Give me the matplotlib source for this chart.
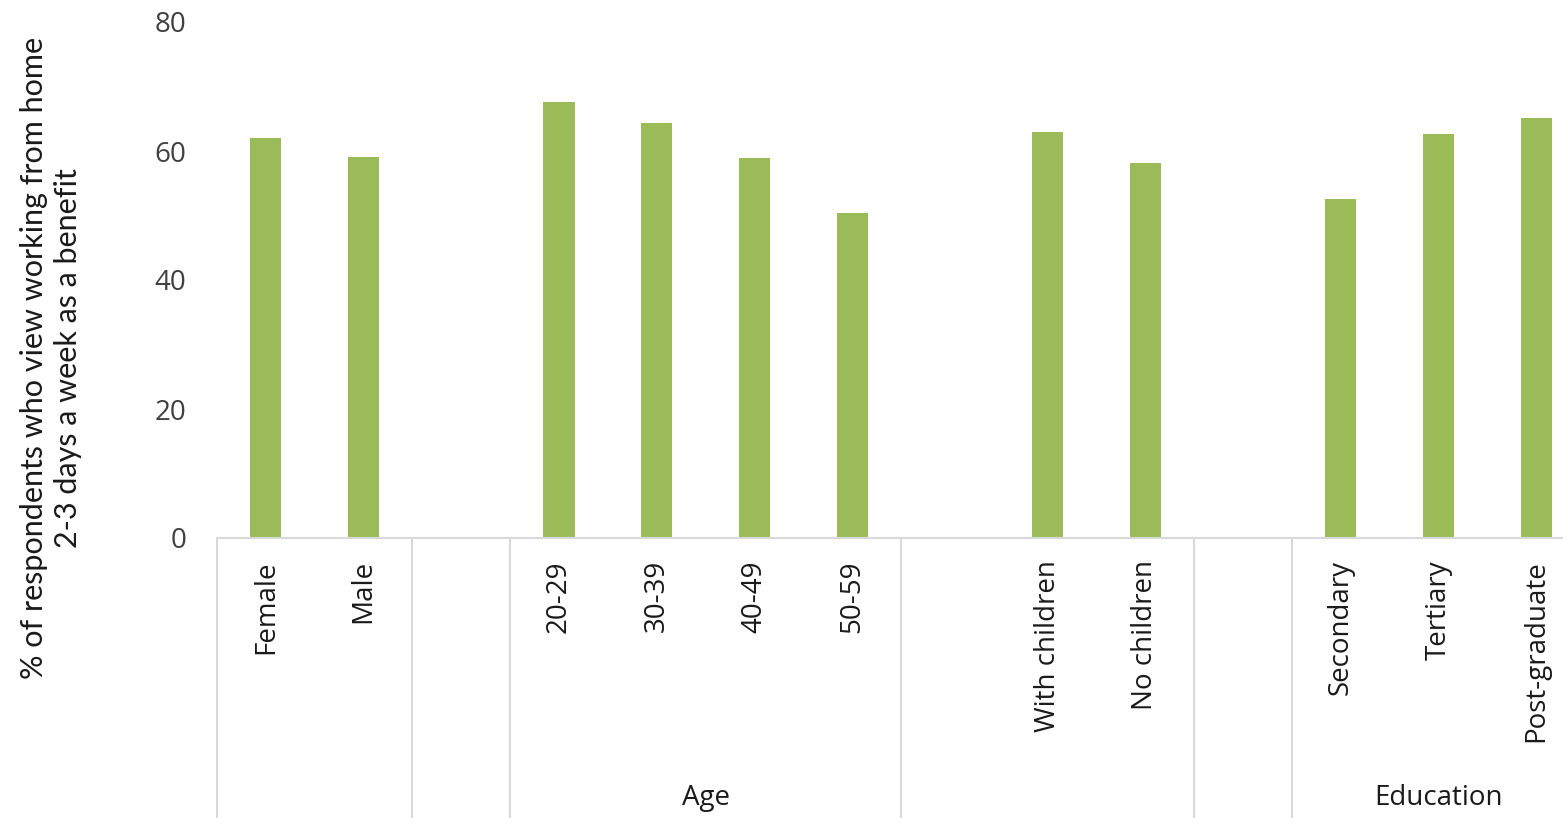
import numpy as np
import matplotlib
matplotlib.use("Agg")
import matplotlib.pyplot as plt
import matplotlib.transforms as mtransforms

categories = ["Female", "Male", "", "20-29", "30-39", "40-49", "50-59", "",
              "With children", "No children", "", "Secondary", "Tertiary", "Post-graduate"]
values = [62.0, 59.1, np.nan, 67.6, 64.3, 58.9, 50.4, np.nan,
          62.9, 58.1, np.nan, 52.6, 62.6, 65.1]
# (group label, first category index, last category index)
groups = [("", 0, 1), ("", 2, 2), ("Age", 3, 6), ("", 7, 9),
          ("", 10, 10), ("Education", 11, 13)]
yticks = [0, 20, 40, 60, 80]
ylabel = "% of respondents who view working from home\n2-3 days a week as a benefit"

W, H = 1563, 818
fig = plt.figure(figsize=(W / 100, H / 100), dpi=100)
x0, x1 = 217, 1585
y0, y1 = 538, 22
ax = fig.add_axes([x0 / W, 1 - y0 / H, (x1 - x0) / W, (y0 - y1) / H])

font = "Open Sans"
x = np.arange(len(categories))
ax.bar(x, values, width=0.32, color="#9BBB59", zorder=2)
ax.set_xlim(-0.5, len(categories) - 0.5)
ax.set_ylim(0, 80)
ax.set_yticks(yticks)
ax.set_yticklabels([str(t) for t in yticks], fontsize=20, family=font, color="#404040")
ax.set_xticks(x)
ax.set_xticklabels(categories, rotation=90, fontsize=20, family=font, color="#1a1a1a")
ax.tick_params(axis="y", length=0, pad=22)
ax.tick_params(axis="x", length=0, pad=16)

for s in ["top", "right", "left"]:
    ax.spines[s].set_visible(False)
ax.spines["bottom"].set_color("#d9d9d9")
ax.spines["bottom"].set_linewidth(1.5)

trans = mtransforms.blended_transform_factory(ax.transData, ax.transAxes)
ybot = -(H - y0) / (y0 - y1)
bounds = set()
for label, a, b in groups:
    bounds.add(a - 0.5)
    bounds.add(b + 0.5)
    if label:
        ax.text((a + b) / 2, ybot + 0.012, label, transform=trans, ha="center", va="bottom",
                fontsize=20, family=font, color="#1a1a1a")
for bx in sorted(bounds):
    ax.plot([bx, bx], [0, ybot], transform=trans, color="#d9d9d9", lw=1.5, clip_on=False)

fig.text(51 / W, 1 - 358 / H, ylabel, rotation=90, ha="center", va="center",
         multialignment="center", fontsize=22, family="Lato",
         color="#1a1a1a", linespacing=1.25)

fig.savefig("out.png", dpi=100)
